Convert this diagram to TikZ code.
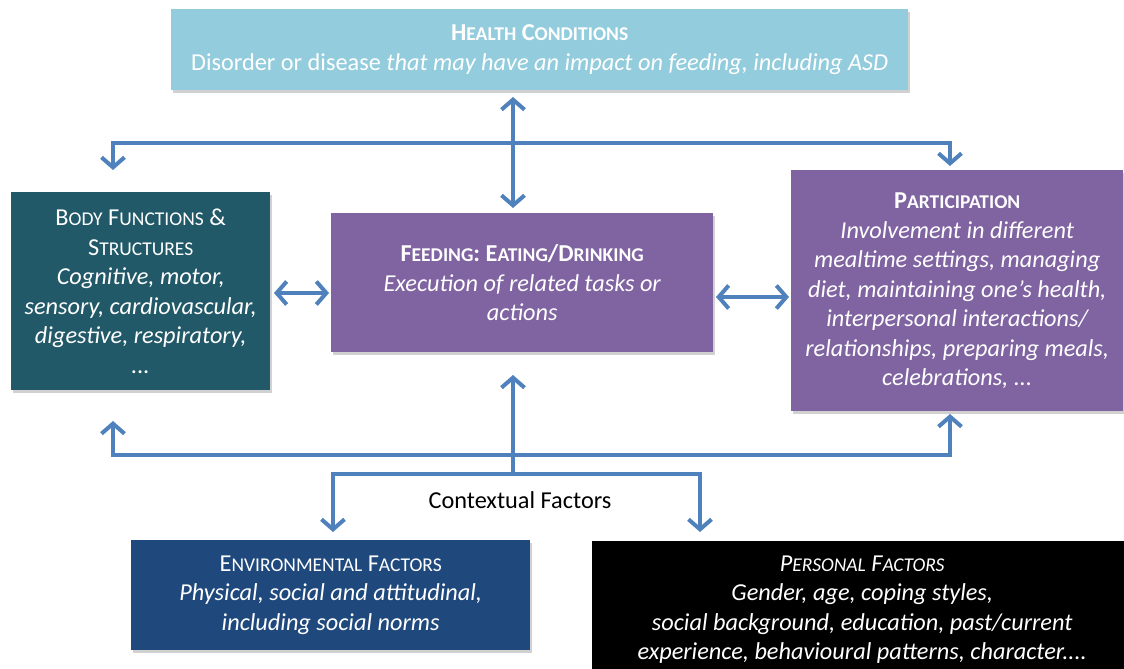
\documentclass[tikz,border=0pt]{standalone}
\usepackage{fontspec}
\setmainfont{Carlito}
\usetikzlibrary{arrows.meta,shadows}
\definecolor{hccol}{HTML}{93CDDD}
\definecolor{bodycol}{HTML}{215968}
\definecolor{purp}{HTML}{8064A2}
\definecolor{envcol}{HTML}{1F497D}
\definecolor{arrcol}{HTML}{4F81BD}
\newcommand\fsc[2]{#1{\fontsize{19.5}{29.5}\selectfont #2}}
\tikzset{
  box/.style={rectangle, inner sep=0pt, anchor=north west, text=white, align=center,
    font=\fontsize{24.3}{29.5}\selectfont,
    drop shadow={shadow xshift=2pt, shadow yshift=-3pt, opacity=0.18, fill=black}},
  arr/.style={draw=arrcol, line width=4pt, line join=miter,
    -{Straight Barb[length=10pt,width=23pt]}},
  darr/.style={draw=arrcol, line width=4pt,
    {Straight Barb[length=10pt,width=23pt]}-{Straight Barb[length=10pt,width=23pt]}},
}
\begin{document}
\begin{tikzpicture}[x=1pt,y=-1pt]
\clip (0,0) rectangle (1124,669);
\fill[white] (0,0) rectangle (1124,669);

% boxes
\node[box, fill=hccol, minimum width=737pt, minimum height=81pt] (health) at (171,9)
 {\textbf{\fsc{H}{EALTH} \fsc{C}{ONDITIONS}}\\
  Disorder or disease \textit{that may have an impact on feeding, including ASD}};
\node[box, fill=bodycol, minimum width=259pt, minimum height=198pt] (body) at (11,192)
 {\fsc{B}{ODY} \fsc{F}{UNCTIONS} \&\\ \fsc{S}{TRUCTURES}\\
  \itshape Cognitive, motor,\\ \itshape sensory, cardiovascular,\\
  \itshape digestive, respiratory,\\ \itshape ...};
\node[box, fill=purp, minimum width=382pt, minimum height=139pt] (feed) at (331,213)
 {\textbf{\fsc{F}{EEDING}: \fsc{E}{ATING}/\fsc{D}{RINKING}}\\
  \itshape Execution of related tasks or\\ \itshape actions};
\node[box, fill=purp, minimum width=332pt, minimum height=241pt] (part) at (791,170)
 {\textbf{\fsc{P}{ARTICIPATION}}\\
  \itshape Involvement in different\\
  \itshape mealtime settings,\ managing\\
  \itshape diet, maintaining\ one’s health,\\
  \itshape interpersonal interactions/\\
  \itshape relationships,\ preparing meals,\\
  \itshape celebrations, ...};
\node[box, fill=envcol, minimum width=399pt, minimum height=110pt] (env) at (131,540)
 {\fsc{E}{NVIRONMENTAL} \fsc{F}{ACTORS}\\
  \itshape Physical, social and attitudinal,\\
  \itshape including social norms};
\node[box, fill=black, minimum width=540pt, minimum height=137pt] (pers) at (592,541)
 {\itshape\fsc{P}{ERSONAL} \fsc{F}{ACTORS}\\
  \itshape Gender, age, coping styles,\\
  \itshape social background,\ education, past/current\\
  \itshape experience, behavioural patterns, character....};

\node[font=\fontsize{24.3}{28}\selectfont, text=black] (ctx) at (520,500) {Contextual Factors};

% coordinates
\coordinate (htop) at (513,97);
\coordinate (hbot) at (513,208);
\coordinate (tl) at (113,143);
\coordinate (tr) at (950,143);
\coordinate (tlend) at (113,170);
\coordinate (trend) at (950,166);
\coordinate (bl) at (113,455);
\coordinate (br) at (950,455);
\coordinate (blend) at (113,421);
\coordinate (brend) at (950,414);
\coordinate (cbot) at (513,474);
\coordinate (ctop) at (513,375);
\coordinate (el) at (333,474);
\coordinate (er) at (700,474);
\coordinate (elend) at (333,532);
\coordinate (erend) at (700,532);
\coordinate (bf1) at (274,293);
\coordinate (bf2) at (329,293);
\coordinate (fp1) at (716,297);
\coordinate (fp2) at (789,297);

% connectors
\draw[arr] (tr) -- (tl) -- (tlend);
\draw[arr] (tl) -- (tr) -- (trend);
\draw[darr] (htop) -- (hbot);
\draw[darr] (bf1) -- (bf2);
\draw[darr] (fp1) -- (fp2);
\draw[arr] (br) -- (bl) -- (blend);
\draw[arr] (bl) -- (br) -- (brend);
\draw[arr] (cbot) -- (ctop);
\draw[arr] (er) -- (el) -- (elend);
\draw[arr] (el) -- (er) -- (erend);
\end{tikzpicture}
\end{document}
